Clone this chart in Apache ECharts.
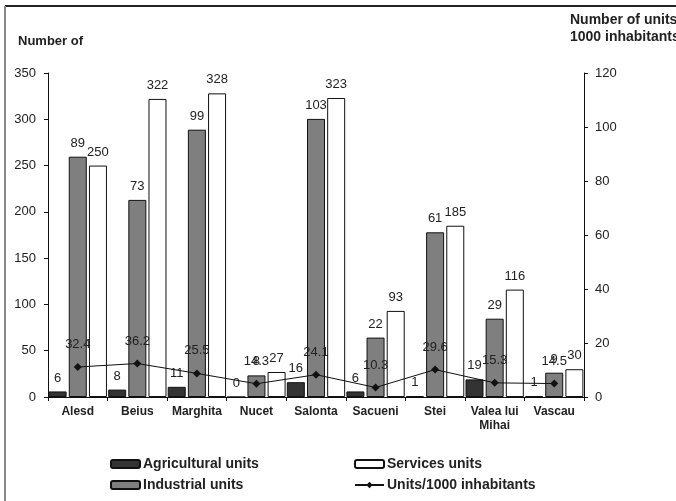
<!DOCTYPE html>
<html>
<head>
<meta charset="utf-8">
<script src="https://cdn.jsdelivr.net/npm/echarts@6/dist/echarts.min.js"></script>
<style>
  html, body { margin: 0; padding: 0; background: #fff; }
  #chart { width: 676px; height: 501px; }
</style>
</head>
<body>
<div id="chart"></div>
<script>
// Towns of Bihor county
const categories = ['Alesd', 'Beius', 'Marghita', 'Nucet', 'Salonta', 'Sacueni', 'Stei', 'Valea lui\nMihai', 'Vascau'];
// Number of economic units by sector
const agricultural = [6, 8, 11, 0, 16, 6, 1, 19, 1];
const industrial = [89, 73, 99, 8, 103, 22, 61, 29, 9];
const services = [250, 322, 328, 27, 323, 93, 185, 116, 30];
// Units per 1000 inhabitants
const perThousand = [32.4, 36.2, 25.5, 14.3, 24.1, 10.3, 29.6, 15.3, 14.5];

const FONT = 'Liberation Sans, Arial, sans-serif';
const labelStyle = { show: true, position: 'top', distance: 7, fontFamily: FONT, fontSize: 13, color: '#222' };

const chart = echarts.init(document.getElementById('chart'), null, { renderer: 'canvas' });

function legendAt(name, left, top) {
  return {
    data: [name], left: left, top: top, orient: 'horizontal',
    itemWidth: 29, itemHeight: 8, itemGap: 4, padding: 0,
    textStyle: { fontFamily: FONT, fontSize: 14, fontWeight: 'bold', color: '#222', padding: [0, 0, 0, -2] },
    selectedMode: false
  };
}

chart.setOption({
  animation: false,
  backgroundColor: '#fff',
  grid: { left: 48, right: 92, top: 73, bottom: 104 },
  legend: [
    legendAt('Agricultural units', 110, 457),
    legendAt('Services units', 354, 457),
    legendAt('Industrial units', 110, 478),
    legendAt('Units/1000 inhabitants', 354, 478)
  ],
  graphic: [
    { type: 'line', shape: { x1: 5, y1: 6, x2: 676, y2: 6 }, style: { stroke: '#222', lineWidth: 2 } },
    { type: 'line', shape: { x1: 5, y1: 6, x2: 5, y2: 501 }, style: { stroke: '#888', lineWidth: 2 } },
    { type: 'text', left: 18, top: 35, style: { text: 'Number of', font: 'bold 13px ' + FONT, fill: '#222' } },
    { type: 'text', left: 570, top: 12, style: { text: 'Number of units\n1000 inhabitants', font: 'bold 14px ' + FONT, fill: '#222', lineHeight: 17 } }
  ],
  xAxis: {
    type: 'category',
    data: categories,
    boundaryGap: true,
    axisLine: { lineStyle: { color: '#111', width: 1 } },
    axisTick: { show: true, length: 4, lineStyle: { color: '#111' } },
    axisLabel: { interval: 0, margin: 8, fontFamily: FONT, fontSize: 12, fontWeight: 'bold', color: '#222', lineHeight: 14 }
  },
  yAxis: [
    {
      type: 'value', min: 0, max: 350, interval: 50,
      splitLine: { show: false },
      axisLine: { show: true, lineStyle: { color: '#111' } },
      axisTick: { show: true, length: 4, lineStyle: { color: '#111' } },
      axisLabel: { fontFamily: FONT, fontSize: 13, color: '#222', margin: 12 }
    },
    {
      type: 'value', min: 0, max: 120, interval: 20, position: 'right',
      splitLine: { show: false },
      axisLine: { show: true, lineStyle: { color: '#111' } },
      axisTick: { show: true, length: 4, lineStyle: { color: '#111' } },
      axisLabel: { fontFamily: FONT, fontSize: 13, color: '#222', margin: 11 }
    }
  ],
  series: [
    {
      name: 'Agricultural units', type: 'bar', yAxisIndex: 0, data: agricultural,
      barWidth: 18, barGap: '12%',
      itemStyle: { color: '#333333', borderColor: '#111', borderWidth: 1 },
      label: labelStyle
    },
    {
      name: 'Industrial units', type: 'bar', yAxisIndex: 1, data: industrial,
      barWidth: 18, barGap: '12%',
      itemStyle: { color: '#7f7f7f', borderColor: '#111', borderWidth: 1 },
      label: labelStyle
    },
    {
      name: 'Services units', type: 'bar', yAxisIndex: 0, data: services,
      barWidth: 18, barGap: '12%',
      itemStyle: { color: '#ffffff', borderColor: '#111', borderWidth: 1 },
      label: labelStyle
    },
    {
      name: 'Units/1000 inhabitants', type: 'line', yAxisIndex: 0, data: perThousand,
      symbol: 'diamond', symbolSize: 8, z: 5,
      lineStyle: { color: '#111', width: 1 },
      itemStyle: { color: '#111' },
      label: Object.assign({}, labelStyle, { distance: 12 })
    }
  ]
});
</script>
</body>
</html>
